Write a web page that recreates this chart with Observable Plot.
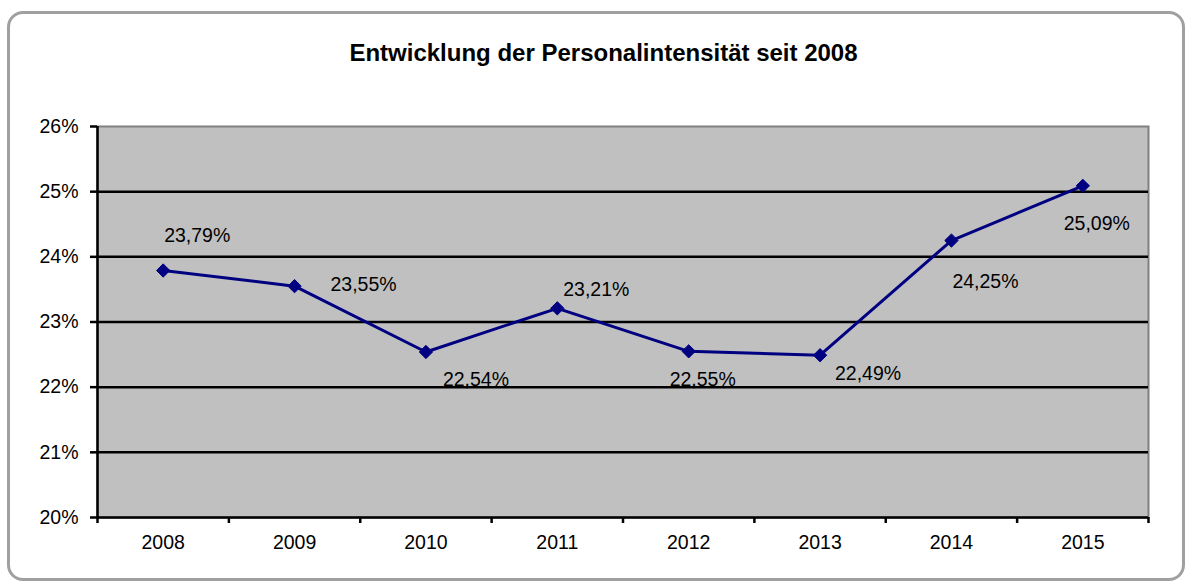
<!DOCTYPE html>
<html>
<head>
<meta charset="utf-8">
<script src="https://cdn.jsdelivr.net/npm/d3@7"></script>
<script src="https://cdn.jsdelivr.net/npm/@observablehq/plot@0.6"></script>
<style>
  html, body { margin: 0; padding: 0; background: #fff; }
  #wrap { position: relative; width: 1189px; height: 585px; overflow: hidden; font-family: "Liberation Sans", Arial, sans-serif; }
  #border { position: absolute; left: 7px; top: 11px; width: 1178px; height: 570px; box-sizing: border-box;
            border: 3px solid #a0a0a0; border-radius: 16px; }
  #title { position: absolute; left: 0; top: 39px; width: 1189px; padding-left: 18px; box-sizing: border-box;
           text-align: center; font-weight: bold; font-size: 24px; line-height: 28px; color: #000; }
  #chart { position: absolute; left: 0; top: 0; }
</style>
</head>
<body>
<div id="wrap">
  <div id="border"></div>
  <div id="chart"></div>
  <div id="title">Entwicklung der Personalintensität seit 2008</div>
</div>
<script>
// Data
const years = ["2008", "2009", "2010", "2011", "2012", "2013", "2014", "2015"];
const values = [23.79, 23.55, 22.54, 23.21, 22.55, 22.49, 24.25, 25.09];
const yTicks = [20, 21, 22, 23, 24, 25, 26];
const gridTicks = [21, 22, 23, 24, 25];

// Label placement (pixel offsets from each point, styling only)
const labelOffsets = [[34, -35], [69, -1], [50, 28], [39, -19], [14, 28], [48, 19], [34, 41], [14, 38]];

const data = years.map((year, i) => ({ year, i, x: i + 0.5, value: values[i] }));
const fmt = v => v.toFixed(2).replace(".", ",") + "%";

const labelMarks = data.map((d, k) =>
  Plot.text([d], {
    x: "x", y: "value", text: r => fmt(r.value),
    dx: labelOffsets[k][0], dy: labelOffsets[k][1],
    fontSize: 19.5, fill: "#000"
  })
);

const chart = Plot.plot({
  width: 1189,
  height: 585,
  marginLeft: 97,
  marginRight: 41,
  marginTop: 126,
  marginBottom: 68,
  style: { fontFamily: "Liberation Sans, Arial, sans-serif", fontSize: "19.5px", color: "#000", background: "transparent", overflow: "visible" },
  x: { type: "linear", domain: [0, years.length] },
  y: { type: "linear", domain: [20, 26] },
  marks: [
    Plot.frame({ fill: "#c0c0c0", stroke: "#808080", strokeWidth: 2 }),
    ...labelMarks,
    Plot.ruleY(gridTicks, { stroke: "#000", strokeWidth: 2.5 }),
    Plot.ruleX([0], { stroke: "#000", strokeWidth: 2.5 }),
    Plot.ruleY([20], { stroke: "#000", strokeWidth: 2.5 }),
    Plot.axisY({ ticks: yTicks, tickSize: 7, tickPadding: 12, tickFormat: d => d + "%", fontSize: 19.5, stroke: "#000", strokeWidth: 2.5, label: null }),
    Plot.axisX({ ticks: d3.range(0, years.length + 1), tickSize: 6, tickFormat: () => "", stroke: "#000", strokeWidth: 2.5, label: null }),
    Plot.axisX({ ticks: data.map(d => d.x), tickSize: 0, tickPadding: 18, tickFormat: v => years[Math.floor(v)], fontSize: 19.5, label: null }),
    Plot.line(data, { x: "x", y: "value", stroke: "#000080", strokeWidth: 3 }),
    Plot.dot(data, { x: "x", y: "value", symbol: "diamond2", r: 6, fill: "#000080", stroke: "#000080", strokeWidth: 1 })
  ]
});
document.getElementById("chart").appendChild(chart);
</script>
</body>
</html>
